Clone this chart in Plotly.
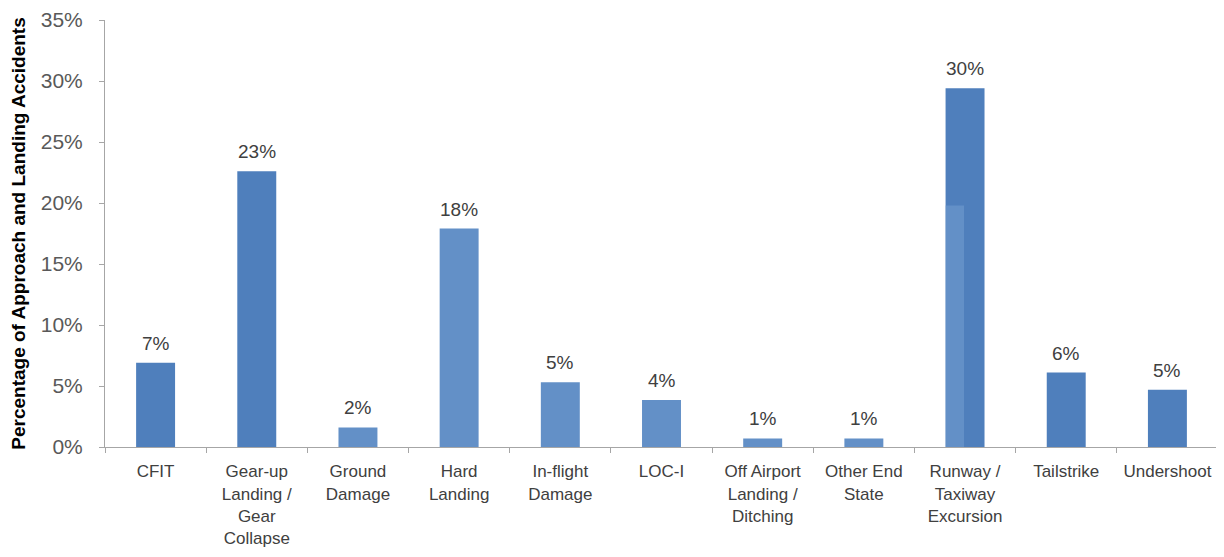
import plotly.graph_objects as go

categories = ["CFIT", "Gear-up<br>Landing /<br>Gear<br>Collapse", "Ground<br>Damage", "Hard<br>Landing",
              "In-flight<br>Damage", "LOC-I", "Off Airport<br>Landing /<br>Ditching", "Other End<br>State",
              "Runway /<br>Taxiway<br>Excursion", "Tailstrike", "Undershoot"]
values = [6.9, 22.6, 1.6, 17.9, 5.3, 3.85, 0.7, 0.7, 29.4, 6.1, 4.7]
labels = ["7%", "23%", "2%", "18%", "5%", "4%", "1%", "1%", "30%", "6%", "5%"]
dark = "#4F7FBC"
light = "#6390C7"
colors = [dark, dark, light, light, light, light, light, light, dark, dark, dark]
overlay_cat = [categories[8]]
overlay_val = [19.8]

fig = go.Figure()
fig.add_trace(go.Bar(x=categories, y=values,
                     marker=dict(color=colors, line=dict(width=0)), width=0.385,
                     hoverinfo="skip"))
fig.add_trace(go.Bar(x=overlay_cat, y=overlay_val, marker=dict(color=light, line=dict(width=0)),
                     width=0.18, offset=-0.19, hoverinfo="skip"))

for c, v, t in zip(categories, values, labels):
    fig.add_annotation(x=c, y=v, text=t, showarrow=False, yanchor="bottom", yshift=7,
                       font=dict(size=19, color="#404040", family="Liberation Sans"))

fig.update_layout(
    width=1224, height=557, barmode="overlay", showlegend=False,
    plot_bgcolor="white", paper_bgcolor="white",
    margin=dict(l=97, r=14, t=12, b=118),
    font=dict(family="Liberation Sans", color="#404040"),
)
fig.update_xaxes(showline=True, linecolor="#A6A6A6", linewidth=1, ticks="outside", tickson="boundaries",
                 ticklen=5, tickcolor="#A6A6A6", tickangle=0, automargin=False, ticklabelstandoff=9,
                 tickfont=dict(size=17, color="#404040"), showgrid=False)
fig.update_yaxes(range=[0, 35], dtick=5, ticksuffix="%", showline=True, linecolor="#A6A6A6", linewidth=1,
                 ticks="outside", ticklen=5, tickcolor="#A6A6A6", showgrid=False, zeroline=False,
                 automargin=False, ticklabelstandoff=12,
                 tickfont=dict(size=21, color="#595959"),
                 title=dict(text="<b>Percentage of Approach and Landing Accidents</b>",
                            font=dict(size=19, color="#000000"), standoff=10))

fig.write_html("out.html")
